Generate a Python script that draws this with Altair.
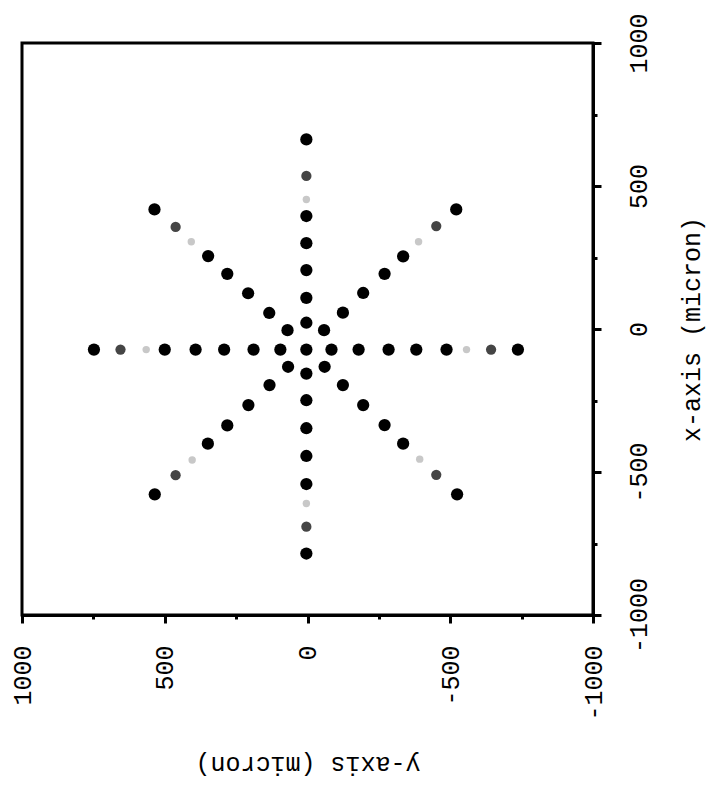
import altair as alt
import pandas as pd

# x-axis value (micron) of each dot
x_um = [
    # arm along the x-axis (y ~ 4)
    663, 535, 453, 395, 300, 206, 109, 22, -72, -156, -249, -347, -444, -542, -610, -691, -785,
    # arm along the y-axis (x ~ -72), centre excluded
    -72, -72, -72, -72, -72, -72, -72, -72, -72, -72, -72, -72, -72, -72, -72, -72,
    # upper-left diagonal
    -4, 56, 125, 193, 255, 305, 357, 418,
    # upper-right diagonal
    -4, 57, 126, 193, 254, 305, 360, 418,
    # lower-left diagonal
    -132, -196, -266, -337, -401, -458, -511, -578,
    # lower-right diagonal
    -132, -196, -266, -336, -401, -455, -510, -578,
]

# y-axis value (micron) of each dot
y_um = [
    4, 4, 4, 4, 4, 4, 4, 4, 4, 4, 4, 4, 4, 4, 4, 4, 4,
    748, 655, 565, 500, 392, 292, 189, 95, -84, -179, -284, -381, -487, -557, -643, -737,
    70, 134, 208, 281, 348, 407, 462, 536,
    -58, -124, -195, -270, -335, -389, -451, -521,
    68, 133, 207, 281, 349, 404, 462, 535,
    -60, -124, -195, -270, -335, -393, -451, -524,
]

# tone of each dot
tone = [
    "black", "gray", "light", "black", "black", "black", "black", "black", "black",
    "black", "black", "black", "black", "black", "light", "gray", "black",
    "black", "gray", "light", "black", "black", "black", "black", "black",
    "black", "black", "black", "black", "black", "light", "gray", "black",
    "black", "black", "black", "black", "black", "light", "gray", "black",
    "black", "black", "black", "black", "black", "light", "gray", "black",
    "black", "black", "black", "black", "black", "light", "gray", "black",
    "black", "black", "black", "black", "black", "light", "gray", "black",
]

tone_domain = ["black", "gray", "light"]
tone_colors = ["#000000", "#454545", "#c8c8c8"]
tone_sizes = [150, 105, 55]

tick_values = [-1000, -750, -500, -250, 0, 250, 500, 750, 1000]

df = pd.DataFrame({"x_um": x_um, "y_um": y_um, "tone": tone})

FONT = "Liberation Mono"
tick_size = {"condition": {"test": "datum.value % 500 === 0", "value": 8}, "value": 4}
label_expr = "datum.value % 500 === 0 ? '' + datum.value : ''"

common_axis = dict(
    values=tick_values,
    tickSize=tick_size,
    tickWidth=3,
    tickColor="black",
    domainWidth=3,
    domainColor="black",
    grid=False,
    labelExpr=label_expr,
    labelFont=FONT,
    labelFontSize=25,
    labelColor="black",
    labelFlush=False,
    labelOverlap=False,
    labelBound=False,
    titleFont=FONT,
    titleFontSize=25,
    titleFontWeight="normal",
    titleColor="black",
    titleAlign="center",
    titleBaseline="middle",
)

x_enc = alt.X(
    "y_um:Q",
    scale=alt.Scale(domain=[-1000, 1000], reverse=True, nice=False, zero=False),
    axis=alt.Axis(
        orient="bottom",
        labelAngle=270,
        labelAlign="right",
        labelBaseline="middle",
        labelPadding=22,
        title="y-axis (micron)",
        titleAngle=180,
        titleX=285.5,
        titleY=149,
        **common_axis,
    ),
)
y_enc = alt.Y(
    "x_um:Q",
    scale=alt.Scale(domain=[-1000, 1000], nice=False, zero=False),
    axis=alt.Axis(
        orient="right",
        labelAngle=270,
        labelAlign="center",
        labelBaseline="top",
        labelPadding=25,
        title="x-axis (micron)",
        titleAngle=270,
        titleX=98,
        titleY=286,
        **common_axis,
    ),
)

base = alt.Chart(df).encode(x=x_enc, y=y_enc)

layers = []
for t, c, s in zip(tone_domain, tone_colors, tone_sizes):
    layers.append(
        base.transform_filter(alt.datum.tone == t).mark_circle(opacity=1, color=c, size=s)
    )

chart = (
    alt.layer(*layers)
    .properties(
        width=571,
        height=572,
        padding={"left": 14, "top": 35, "right": 116, "bottom": 164},
        autosize=alt.AutoSizeParams(type="none"),
    )
    .configure_view(stroke="black", strokeWidth=3)
)

chart.save("out.html", embed_options={"renderer": "svg", "actions": False})
